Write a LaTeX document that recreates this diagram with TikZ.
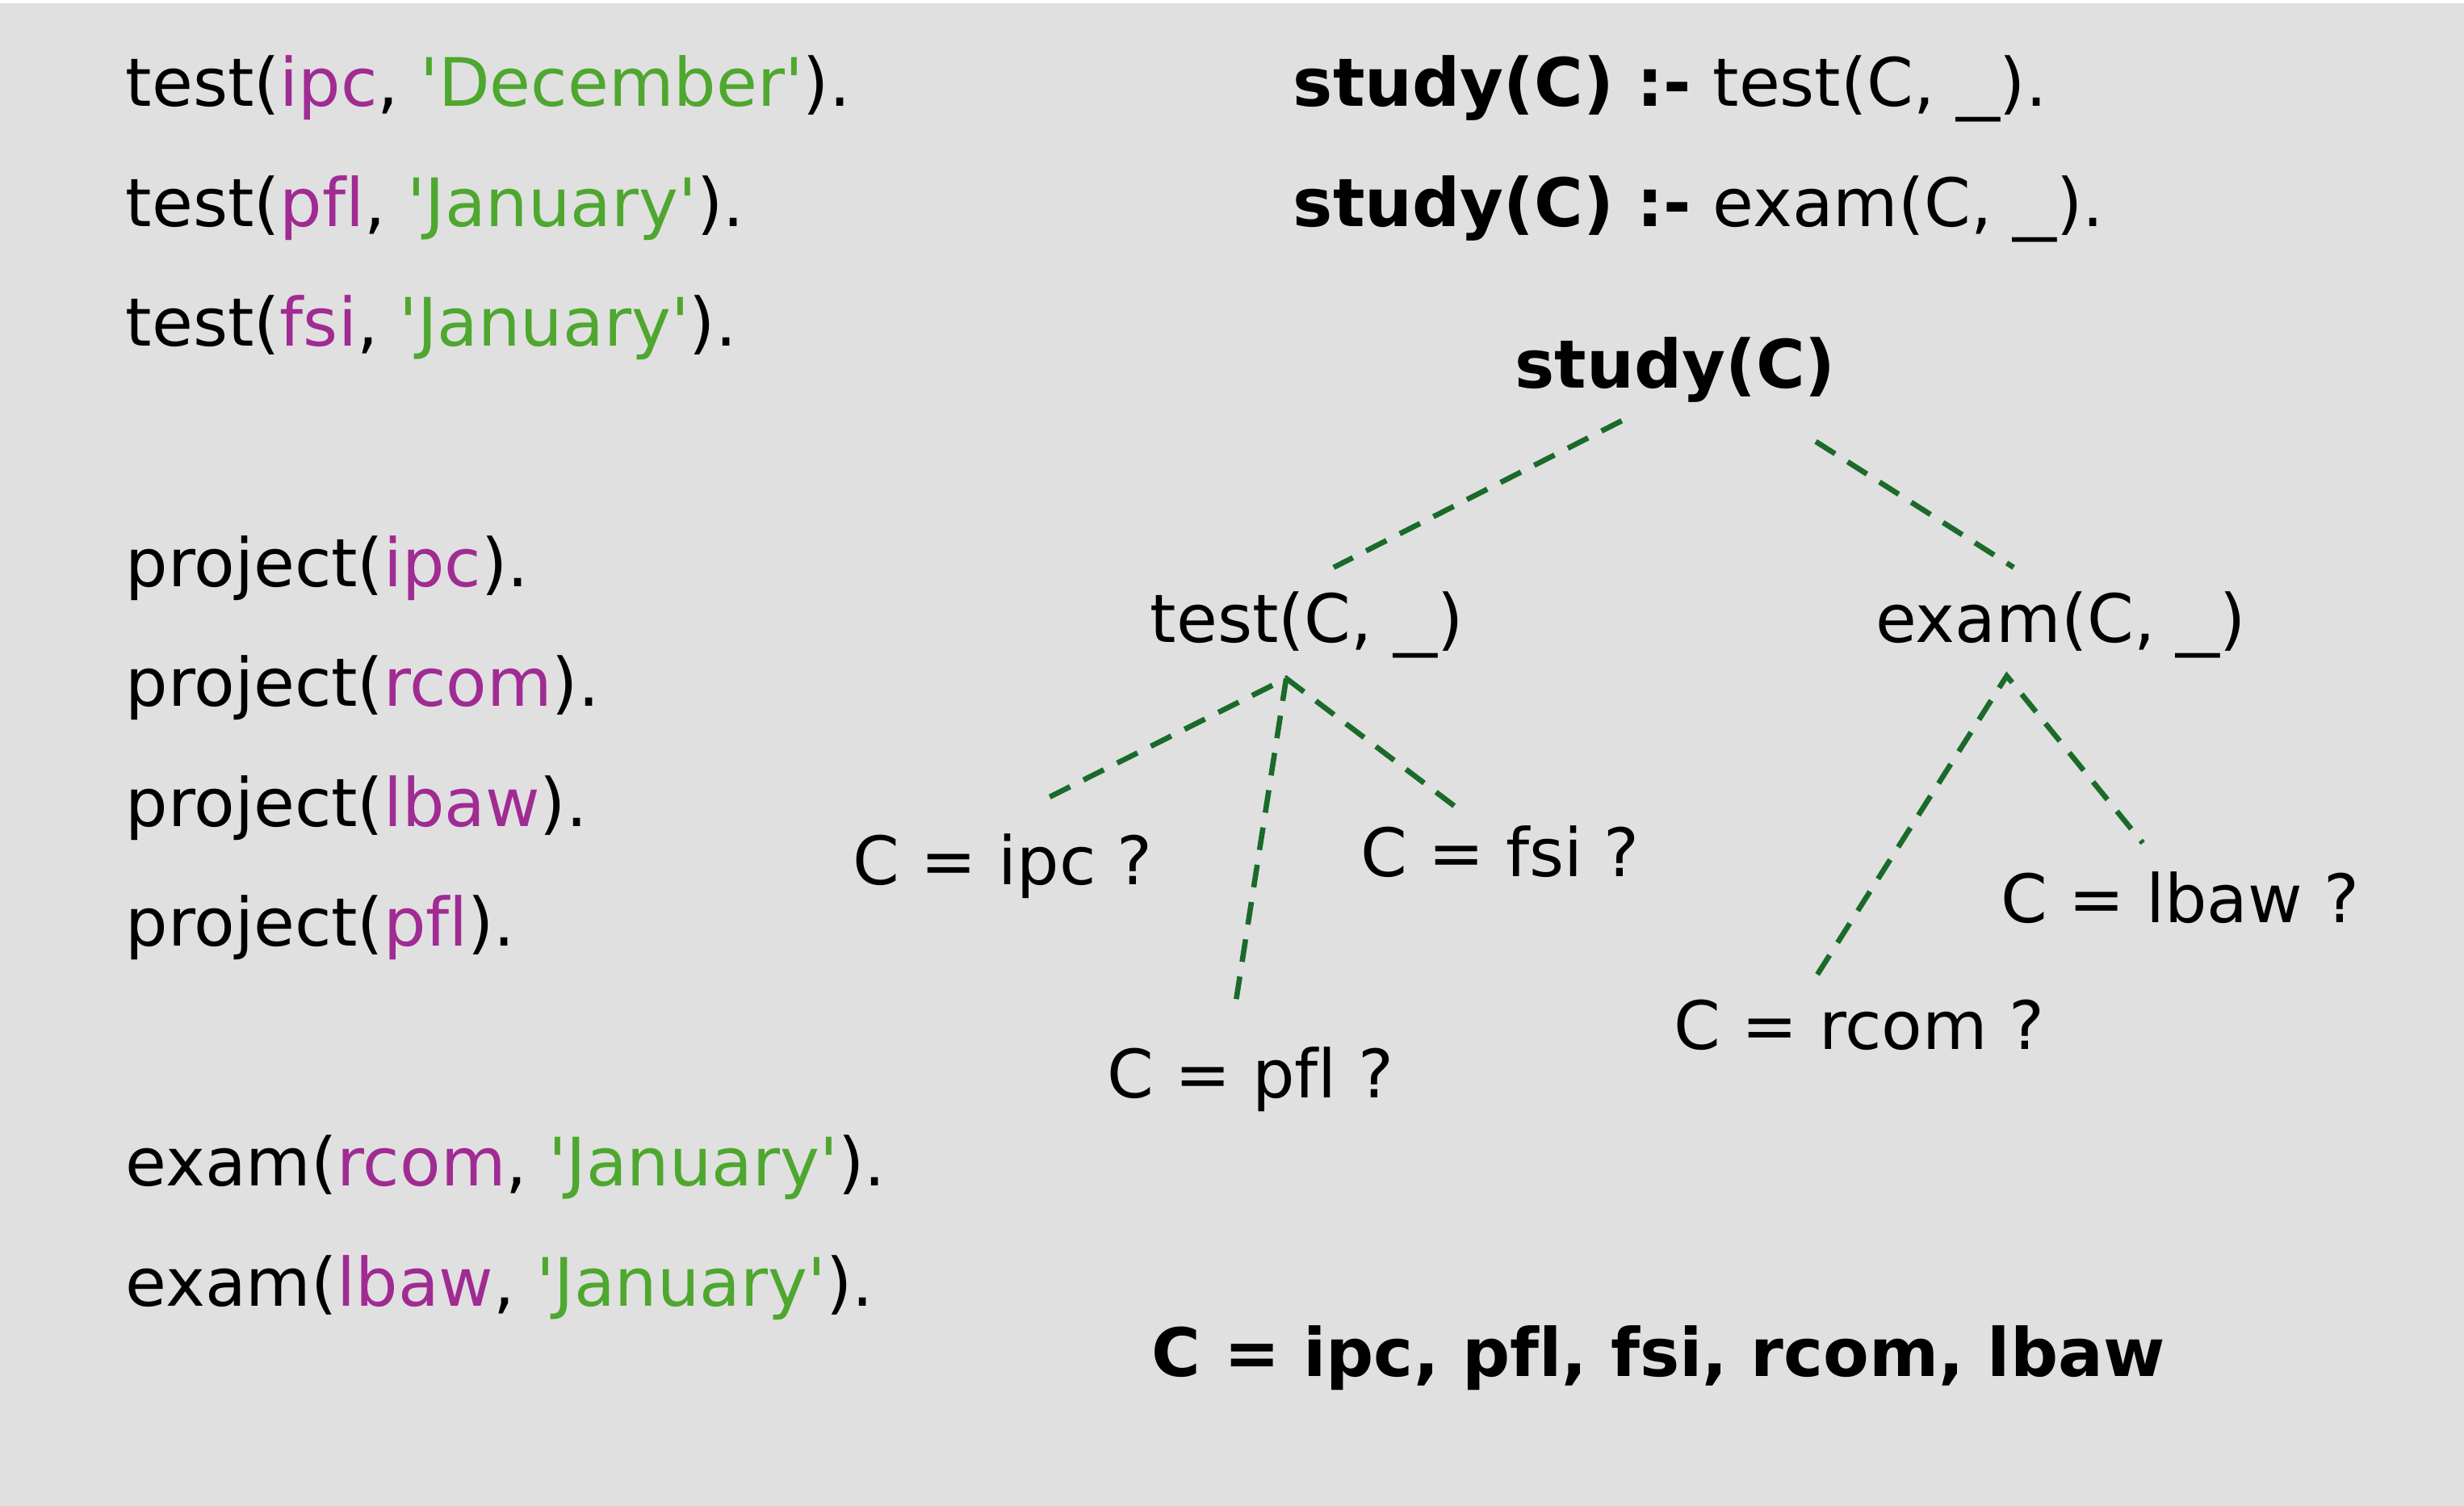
\documentclass[tikz,border=0pt]{standalone}
\usepackage{graphicx}
\usepackage{fontspec}
\setmainfont{DejaVu Sans}[Ligatures={NoCommon}]
\definecolor{bggray}{HTML}{E0E0E0}
\definecolor{atompurple}{HTML}{A02B93}
\definecolor{strgreen}{HTML}{4EA72E}
\definecolor{linegreen}{HTML}{1A6B2A}
\newcommand{\sqt}{\textquotesingle}
\newcommand{\at}[1]{\textcolor{atompurple}{#1}}
\newcommand{\st}[1]{\textcolor{strgreen}{\sqt#1\sqt}}
\newcommand{\wus}{\scalebox{1.3}[1]{\_}}
\begin{document}
\begin{tikzpicture}[x=1bp,y=-1bp,
  txt/.style={inner sep=0pt, outer sep=0pt, anchor=base west, text=black,
    font=\fontsize{42.5bp}{50bp}\selectfont},
  branch/.style={draw=linegreen, line width=3.4bp, dash pattern=on 14.5bp off 9.5bp}]
\useasboundingbox (0,0) rectangle (1568,958);
\fill[bggray] (0,0) rectangle (1568,958);
\fill[white] (0,0) rectangle (1568,2);
% facts
\node[txt] (f1) at (80,67.7) {test(\at{ipc}, \st{December}).};
\node[txt] (f2) at (80,144) {test(\at{pfl}, \st{January}).};
\node[txt] (f3) at (80,220.3) {test(\at{fsi}, \st{January}).};
\node[txt] (p1) at (80,373) {project(\at{ipc}).};
\node[txt] (p2) at (80,449.3) {project(\at{rcom}).};
\node[txt] (p3) at (80,525.6) {project(\at{lbaw}).};
\node[txt] (p4) at (80,601.9) {project(\at{pfl}).};
\node[txt] (e1) at (80,754.5) {exam(\at{rcom}, \st{January}).};
\node[txt] (e2) at (80,830.8) {exam(\at{lbaw}, \st{January}).};
% rules
\node[txt] (r1) at (823,67.7) {\textbf{study(C) :-} test(C, \wus).};
\node[txt] (r2) at (823,144) {\textbf{study(C) :-} exam(C, \wus).};
% tree
\node[txt] (root) at (964,247) {\textbf{study(C)}};
\node[txt] (tst) at (732,408.6) {test(C, \wus)};
\node[txt] (exm) at (1193.6,408.6) {exam(C, \wus)};
\node[txt] (cipc) at (543,563) {C = ipc ?};
\node[txt] (cfsi) at (866,557.7) {C = fsi ?};
\node[txt] (cpfl) at (704.6,698.7) {C = pfl ?};
\node[txt] (crcom) at (1065.3,667.5) {C = rcom ?};
\node[txt] (clbaw) at (1273.4,587) {C = lbaw ?};
\node[txt] (res) at (733,875.5) {\textbf{C = ipc, pfl, fsi, rcom, lbaw}};
% connector end points
\coordinate (rootL) at (1032,267.7);
\coordinate (rootR) at (1155.5,280.9);
\coordinate (tstTop) at (848.7,361);
\coordinate (exmTop) at (1281.4,361);
\coordinate (tstApex) at (818.5,431.6);
\coordinate (exmApex) at (1277,430);
\coordinate (ipcTop) at (668,507);
\coordinate (pflTop) at (785.9,641);
\coordinate (fsiTop) at (928.4,515);
\coordinate (rcomTop) at (1156.5,620);
\coordinate (lbawTop) at (1363.6,536.4);
\draw[branch] (rootL) -- (tstTop);
\draw[branch] (rootR) -- (exmTop);
\draw[branch] (ipcTop) -- (tstApex) -- (fsiTop);
\draw[branch] (tstApex) -- (pflTop);
\draw[branch] (rcomTop) -- (exmApex) -- (lbawTop);
\end{tikzpicture}
\end{document}
